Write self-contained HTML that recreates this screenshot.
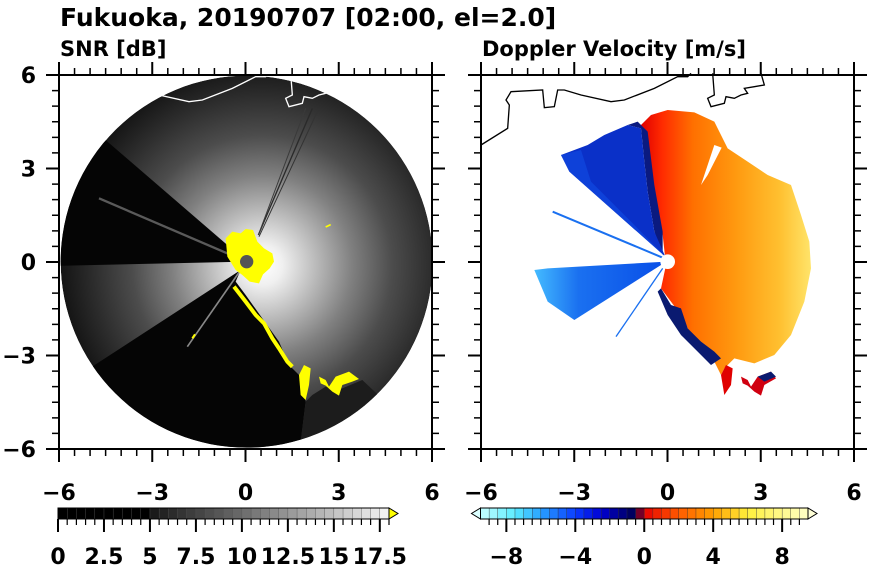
<!DOCTYPE html>
<html><head><meta charset="utf-8">
<style>
html,body{margin:0;padding:0;background:#fff;}
svg{display:block;font-family:"DejaVu Sans","Liberation Sans",sans-serif;font-weight:bold;}
</style></head>
<body>
<svg id="fig" width="870" height="570" viewBox="0 0 870 570" xmlns="http://www.w3.org/2000/svg">
<defs>
  <clipPath id="snrClip"><circle cx="563" cy="560" r="558"/></clipPath>
  <radialGradient id="snrGrad" gradientUnits="userSpaceOnUse" cx="610" cy="570" r="600">
    <stop offset="0" stop-color="#ffffff"/>
    <stop offset="0.1" stop-color="#f0f0f0"/>
    <stop offset="0.25" stop-color="#c0c0c0"/>
    <stop offset="0.45" stop-color="#808080"/>
    <stop offset="0.65" stop-color="#4c4c4c"/>
    <stop offset="0.85" stop-color="#2c2c2c"/>
    <stop offset="1" stop-color="#151515"/>
  </radialGradient>
  <linearGradient id="velGrad" gradientUnits="userSpaceOnUse" x1="480" y1="0" x2="1000" y2="0">
    <stop offset="0" stop-color="#e00000"/>
    <stop offset="0.12" stop-color="#ff2a00"/>
    <stop offset="0.3" stop-color="#ff7000"/>
    <stop offset="0.55" stop-color="#ff9a10"/>
    <stop offset="0.8" stop-color="#ffc030"/>
    <stop offset="1" stop-color="#ffe870"/>
  </linearGradient>
  <linearGradient id="blueGrad" gradientUnits="userSpaceOnUse" x1="160" y1="0" x2="540" y2="0">
    <stop offset="0" stop-color="#44bbff"/>
    <stop offset="0.35" stop-color="#1a70f0"/>
    <stop offset="1" stop-color="#0a50e8"/>
  </linearGradient>
</defs>

<text x="60" y="26" font-size="25">Fukuoka, 20190707 [02:00, el=2.0]</text>
<text x="60" y="56" font-size="21">SNR [dB]</text>
<text x="482" y="56" font-size="21">Doppler Velocity [m/s]</text>

<!-- SNR panel -->
<g transform="translate(59,75) scale(0.33333)">
  <g clip-path="url(#snrClip)">
    <circle cx="563" cy="560" r="558" fill="url(#snrGrad)"/>
    <polygon points="563,560 -586,-430 -1096,596" fill="#050505"/>
    <line x1="563" y1="560" x2="120" y2="370" stroke="#5a5a5a" stroke-width="7"/>
    <polygon points="545,585 -400,1200 700,1300 740,980 720,900 690,870 660,800 610,730 560,660 530,620" fill="#050505"/>
    <polygon points="740,980 760,960 800,935 850,940 910,915 1000,1000 800,1300 700,1300" fill="#1c1c1c"/>
    <line x1="545" y1="585" x2="385" y2="815" stroke="#888" stroke-width="5"/>
    <line x1="598" y1="480" x2="760" y2="100" stroke="#2a2a2a" stroke-width="4"/>
    <line x1="598" y1="480" x2="740" y2="100" stroke="#3a3a3a" stroke-width="3"/>
    <line x1="600" y1="485" x2="775" y2="110" stroke="#333" stroke-width="3"/>
  </g>
  <polygon points="500,490 520,470 545,475 560,462 582,465 595,500 615,520 640,535 645,560 632,580 612,598 600,625 572,620 550,600 530,585 505,545" fill="#ffff00"/>
  <circle cx="563" cy="560" r="20" fill="#555"/>
  <polyline points="525,635 560,680 590,720 615,745 640,790 660,820 685,860 700,875" fill="none" stroke="#ffff00" stroke-width="12"/>
  <polygon points="720,900 735,870 755,880 750,930 740,975 725,960" fill="#ffff00"/>
  <polygon points="780,905 800,915 810,935 830,905 870,890 900,912 880,920 850,930 840,962 820,950 800,932 785,925" fill="#ffff00"/>
  <line x1="800" y1="456" x2="815" y2="449" stroke="#ffff00" stroke-width="5"/>
  <line x1="400" y1="790" x2="408" y2="778" stroke="#ffff00" stroke-width="6"/>
  <g clip-path="url(#snrClip)">
    <polyline points="0,210 80,160 85,90 75,75 90,50 185,45 190,98 220,95 230,45 250,45 300,60 390,80 430,75 520,40 590,5 620,5 630,-5" fill="none" stroke="#fff" stroke-width="4"/>
    <polyline points="695,-5 700,60 680,70 690,95 730,85 735,65 760,70 780,60 800,55 790,40 820,35 850,30 840,-5" fill="none" stroke="#fff" stroke-width="4"/>
  </g>
</g>

<!-- Doppler panel -->
<g transform="translate(481,75) scale(0.33333)">
  <polygon points="480,150 510,120 560,105 640,112 700,140 740,220 800,260 860,300 930,330 960,420 985,500 990,580 970,680 930,780 880,840 820,865 760,850 730,880 720,900 700,860 640,800 600,720 540,640 555,570 545,480 520,400 500,300 490,230" fill="url(#velGrad)"/>
  <polygon points="545,540 520,470 500,350 490,260 480,160 440,150 470,140 500,170 520,330 545,470" fill="#0a1a80"/>
  <polygon points="553,545 265,290 240,240 320,210 370,180 440,150 480,160 490,260 500,350 520,470" fill="#0a30c8"/>
  <polygon points="553,545 265,290 240,240 300,225 330,320 450,440" fill="#1048e0" opacity="0.7"/>
  <polygon points="660,330 700,210 722,218 680,300" fill="#fff"/>
  <polygon points="556,560 200,580 160,585 200,680 280,735" fill="url(#blueGrad)"/>
  <line x1="545" y1="548" x2="215" y2="410" stroke="#1a70f0" stroke-width="6"/>
  <line x1="545" y1="580" x2="405" y2="785" stroke="#1a70f0" stroke-width="4"/>
  <polygon points="540,640 570,690 600,700 620,760 660,800 700,830 720,850 690,870 650,830 600,780 560,720 530,650" fill="#0a1a70"/>
  <polygon points="720,900 735,870 755,880 750,930 730,960" fill="#e00000"/>
  <polygon points="780,905 800,915 810,935 830,905 870,890 885,910 850,930 840,962 820,950 800,932 785,925" fill="#d00010"/>
  <polygon points="830,905 870,890 885,905 850,920" fill="#0a1a70"/>
  <circle cx="560" cy="560" r="22" fill="#fff"/>
  <polyline points="0,210 80,160 85,90 75,75 90,50 185,45 190,98 220,95 230,45 250,45 300,60 390,80 430,75 520,40 590,5 620,5 630,-5" fill="none" stroke="#000" stroke-width="4"/>
  <polyline points="695,-5 700,60 680,70 690,95 730,85 735,65 760,70 780,60 800,55 790,40 820,35 850,30 840,-5" fill="none" stroke="#000" stroke-width="4"/>
</g>

<g id="axes"></g>
<g id="cbars"></g>
</svg>

<script>
// axis data
const axisTicks = [-6, -3, 0, 3, 6];
const axisTickLabels = ["−6", "−3", "0", "3", "6"];
const minorStep = 0.5;
// SNR colorbar data
const snrLevels = [];
for (let v = 0; v < 18; v += 0.5) snrLevels.push(v);
const snrTicks = [0, 2.5, 5, 7.5, 10, 12.5, 15, 17.5];
const snrTickLabels = ["0", "2.5", "5", "7.5", "10", "12.5", "15", "17.5"];
// Velocity colorbar data
const velLevels = [];
for (let v = -9.5; v < 9.5; v += 0.5) velLevels.push(v);
const velTicks = [-8, -4, 0, 4, 8];
const velTickLabels = ["−8", "−4", "0", "4", "8"];

const NS = "http://www.w3.org/2000/svg";
function mk(tag, attrs, parent) {
  const e = document.createElementNS(NS, tag);
  for (const k in attrs) e.setAttribute(k, attrs[k]);
  parent.appendChild(e);
  return e;
}
const axes = document.getElementById('axes');
const panels = [{x0: 59, name: 'snr'}, {x0: 481, name: 'doppler'}];
const Y0 = 75, H = 374, W = 373;
panels.forEach((p, pi) => {
  const sx = v => p.x0 + (v + 6) / 12 * W;
  const sy = v => Y0 + H - (v + 6) / 12 * H;
  const fr = mk('rect', {x: p.x0, y: Y0, width: W, height: H, fill: 'none', stroke: '#000', 'stroke-width': 2}, axes);
  
  
  for (let v = -6; v <= 6.001; v += minorStep) {
    const major = axisTicks.some(t => Math.abs(t - v) < 1e-6);
    const L = major ? 13 : 7;
    const px = sx(v), py = sy(v);
    const d = `M${px},${Y0 + H}v${L}M${px},${Y0}v${-L}M${p.x0},${py}h${-L}M${p.x0 + W},${py}h${L}`;
    const t = mk('path', {d: d, stroke: '#000', 'stroke-width': major ? 2 : 1.5, fill: 'none'}, axes);
    
    
  }
  axisTicks.forEach((v, i) => {
    const tx = mk('text', {x: sx(v), y: 500, 'font-size': 22, 'text-anchor': 'middle'}, axes);
    tx.textContent = axisTickLabels[i];
    
    
    if (pi === 0) {
      const ty = mk('text', {x: 36, y: sy(v) + 8, 'font-size': 22, 'text-anchor': 'end'}, axes);
      ty.textContent = axisTickLabels[i];
      
      
    }
  });
});

function lerpC(stops, t) {
  for (let i = 0; i < stops.length - 1; i++) {
    const [a, ca] = stops[i], [b, cb] = stops[i + 1];
    if (t >= a && t <= b) {
      const f = (t - a) / (b - a || 1);
      const c = ca.map((x, k) => Math.round(x + (cb[k] - x) * f));
      return `rgb(${c[0]},${c[1]},${c[2]})`;
    }
  }
  const c = stops[stops.length - 1][1];
  return `rgb(${c[0]},${c[1]},${c[2]})`;
}
const snrStops = [[0, [0, 0, 0]], [4.99, [0, 0, 0]], [5, [22, 22, 22]], [18, [245, 245, 245]]];
const velStops = [[-9.5, [200, 255, 255]], [-7.5, [90, 235, 255]], [-6, [40, 160, 255]], [-4, [10, 60, 255]], [-2.5, [0, 0, 210]], [-0.5, [0, 0, 80]], [0, [230, 0, 0]], [2, [255, 90, 0]], [4, [255, 160, 0]], [6, [255, 240, 60]], [9.5, [255, 255, 200]]];

const cb = document.getElementById('cbars');
(function () {
  const x0 = 58, x1 = 389, y = 508, h = 11, vmin = 0, vmax = 18;
  const sx = v => x0 + (v - vmin) / (vmax - vmin) * (x1 - x0);
  snrLevels.forEach(v => {
    const r = mk('rect', {x: sx(v), y: y, width: sx(v + 0.5) - sx(v) + 0.3, height: h, fill: lerpC(snrStops, v + 0.25), stroke: '#555', 'stroke-width': 0.4}, cb);
    
    
  });
  const tri = mk('polygon', {points: `${x1},${y} ${x1 + 9},${y + h / 2} ${x1},${y + h}`, fill: '#ffff00', stroke: '#000', 'stroke-width': 1}, cb);
  
  
  const fr = mk('rect', {x: x0, y: y, width: x1 - x0, height: h, fill: 'none', stroke: '#000', 'stroke-width': 1}, cb);
  
  
  for (let v = vmin; v <= vmax + 1e-6; v += 0.5) {
    const major = snrTicks.some(t => Math.abs(t - v) < 1e-6);
    const tk = mk('line', {x1: sx(v), x2: sx(v), y1: y + h, y2: y + h + (major ? 13 : 6), stroke: '#000', 'stroke-width': major ? 2 : 1.2}, cb);
    
    
  }
  snrTicks.forEach((v, i) => {
    const t = mk('text', {x: sx(v), y: 564, 'font-size': 22, 'text-anchor': 'middle'}, cb);
    t.textContent = snrTickLabels[i];
    
    
  });
})();
(function () {
  const x0 = 480.5, x1 = 808, y = 508, h = 11, vmin = -9.5, vmax = 9.5;
  const sx = v => x0 + (v - vmin) / (vmax - vmin) * (x1 - x0);
  velLevels.forEach(v => {
    const r = mk('rect', {x: sx(v), y: y, width: sx(v + 0.5) - sx(v) + 0.3, height: h, fill: lerpC(velStops, v + 0.25), stroke: '#333', 'stroke-width': 0.4}, cb);
    
    
  });
  const tl = mk('polygon', {points: `${x0},${y} ${x0 - 9},${y + h / 2} ${x0},${y + h}`, fill: 'rgb(220,255,255)', stroke: '#000', 'stroke-width': 1}, cb);
  
  
  const tr = mk('polygon', {points: `${x1},${y} ${x1 + 9},${y + h / 2} ${x1},${y + h}`, fill: 'rgb(255,255,215)', stroke: '#000', 'stroke-width': 1}, cb);
  
  
  const fr = mk('rect', {x: x0, y: y, width: x1 - x0, height: h, fill: 'none', stroke: '#000', 'stroke-width': 1}, cb);
  
  
  for (let v = -9; v <= 9 + 1e-6; v += 0.5) {
    const major = velTicks.some(t => Math.abs(t - v) < 1e-6);
    const tk = mk('line', {x1: sx(v), x2: sx(v), y1: y + h, y2: y + h + (major ? 13 : 6), stroke: '#000', 'stroke-width': major ? 2 : 1.2}, cb);
    
    
  }
  velTicks.forEach((v, i) => {
    const t = mk('text', {x: sx(v), y: 564, 'font-size': 22, 'text-anchor': 'middle'}, cb);
    t.textContent = velTickLabels[i];
    
    
  });
})();
</script>
</body></html>
